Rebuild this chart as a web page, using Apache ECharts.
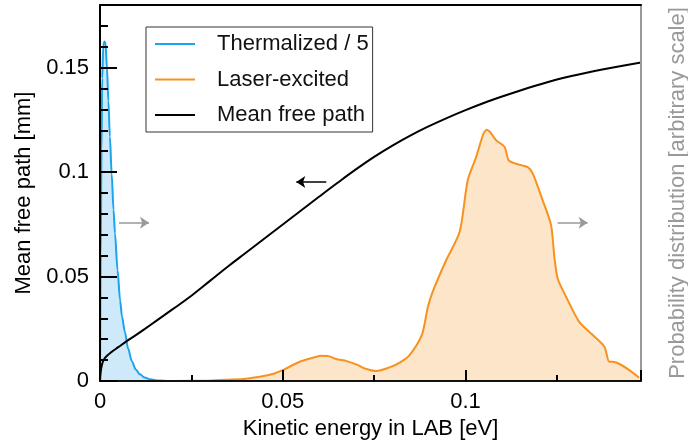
<!DOCTYPE html>
<html>
<head>
<meta charset="utf-8">
<script src="https://cdn.jsdelivr.net/npm/echarts@6/dist/echarts.min.js"></script>
<style>
html, body { margin: 0; padding: 0; background: #fff; }
#chart { width: 688px; height: 441px; }
</style>
</head>
<body>
<div id="chart"></div>
<script>
// values (energy in eV)
const thermalE = [0, 0.0002, 0.0004, 0.0006, 0.0009, 0.0012, 0.0015, 0.0019, 0.0023, 0.0027, 0.0032, 0.0037,
  0.0041, 0.0048, 0.0055, 0.006, 0.0068, 0.0077, 0.0087, 0.0098, 0.0109, 0.0122, 0.0137, 0.016, 0.019, 0.025, 0.03];
const thermalP = [0, 0.06, 0.11, 0.145, 0.1605, 0.1625, 0.162, 0.15, 0.134, 0.117, 0.099, 0.082,
  0.0706, 0.053, 0.0387, 0.031, 0.0235, 0.0155, 0.0095, 0.0055, 0.0032, 0.0017, 0.0008, 0.0002, 0, 0, 0];

const laserE = [0, 0.02, 0.03, 0.035, 0.04, 0.0437, 0.0475, 0.0501, 0.0546, 0.058, 0.0605, 0.0625, 0.0646,
  0.0675, 0.0706, 0.0724, 0.0756, 0.0792, 0.082, 0.0847, 0.0881, 0.0897, 0.091, 0.0947, 0.0984, 0.1006,
  0.1029, 0.1049, 0.1058, 0.1067, 0.1084, 0.1107, 0.1118, 0.1138, 0.117, 0.1184, 0.1211, 0.1234, 0.1243,
  0.1252, 0.1275, 0.1311, 0.1348, 0.138, 0.1393, 0.1403, 0.1475];
const laserP = [0, 0, 0.0002, 0.0006, 0.0011, 0.002, 0.0035, 0.0053, 0.0092, 0.011, 0.0121, 0.0119, 0.0105,
  0.0095, 0.0076, 0.006, 0.0048, 0.0065, 0.0088, 0.0124, 0.0223, 0.0355, 0.0427, 0.0578, 0.0714, 0.0961,
  0.1072, 0.1184, 0.1203, 0.1192, 0.1152, 0.112, 0.1056, 0.104, 0.1024, 0.0993, 0.0865, 0.0746, 0.0594,
  0.0491, 0.0403, 0.0283, 0.022, 0.0164, 0.0092, 0.0092, 0.0016];

const mfpE = [0, 0.0002, 0.0005, 0.001, 0.002, 0.003, 0.005, 0.0075, 0.01, 0.012, 0.015, 0.02, 0.025, 0.03,
  0.035, 0.04, 0.045, 0.05, 0.055, 0.06, 0.065, 0.07, 0.075, 0.08, 0.085, 0.09, 0.095, 0.1, 0.105, 0.11,
  0.115, 0.12, 0.125, 0.13, 0.135, 0.14, 0.148];
const mfpL = [0, 0.0045, 0.0075, 0.0101, 0.0122, 0.0137, 0.0162, 0.0193, 0.0222, 0.0246, 0.0283, 0.0345, 0.0408, 0.0478,
  0.0548, 0.0615, 0.0682, 0.0749, 0.0816, 0.0883, 0.0949, 0.1013, 0.1073, 0.1127, 0.1176, 0.122, 0.126, 0.1297, 0.1331, 0.1362,
  0.1391, 0.1418, 0.1443, 0.1464, 0.1483, 0.15, 0.1525];

const xTicks = [0, 0.05, 0.1];
const yTicks = [0, 0.05, 0.1, 0.15];

const pairs = (xs, ys) => xs.map((x, i) => [x, ys[i]]);
const FONT = '"Liberation Sans", Arial, sans-serif';
const onList = list => v => list.some(t => Math.abs(t - v) < 1e-9) ? String(v) : '';

// arrows telling which axis a curve belongs to
const arrowRightA = [[0.0052, 0.0757], [0.0134, 0.0757]];
const arrowRightB = [[0.1252, 0.0757], [0.1334, 0.0757]];
const arrowLeft = [[0.0619, 0.0953], [0.0537, 0.0953]];

function arrow(seg, color) {
  return {
    silent: true,
    symbol: ['none', 'arrow'],
    symbolSize: [9, 9],
    label: { show: false },
    lineStyle: { color: color, width: 1.5, type: 'solid' },
    emphasis: { disabled: true },
    data: [[{ coord: seg[0] }, { coord: seg[1] }]]
  };
}

const chart = echarts.init(document.getElementById('chart'));
chart.setOption({
  animation: false,
  grid: { left: 100, right: 47, top: 5, bottom: 60, outerBoundsMode: 'none' },
  legend: {
    data: ['Thermalized / 5', 'Laser-excited', 'Mean free path'],
    orient: 'vertical',
    left: 146,
    top: 27,
    padding: [5, 4, 5, 9],
    itemWidth: 40,
    itemHeight: 2,
    itemGap: 11.5,
    icon: 'rect',
    backgroundColor: '#fff',
    borderColor: '#333',
    borderWidth: 1,
    selectedMode: false,
    textStyle: { fontSize: 22, fontFamily: FONT, color: '#111', lineHeight: 24, padding: [0, 0, 0, 17] }
  },
  xAxis: [
    {
      type: 'value', position: 'bottom', min: 0, max: 0.148, interval: 0.05, z: 10,
      axisLine: { show: true, onZero: false, lineStyle: { color: '#111', width: 2 } },
      axisTick: { show: true, inside: true, length: 11, lineStyle: { color: '#000', width: 2 } },
      axisLabel: { margin: 10, fontSize: 22, fontFamily: FONT, color: '#000', formatter: onList(xTicks) },
      splitLine: { show: false },
      name: 'Kinetic energy in LAB [eV]', nameLocation: 'middle', nameGap: 31,
      nameTextStyle: { fontSize: 22, fontFamily: FONT, color: '#000' }
    },
    {
      type: 'value', position: 'bottom', min: 0, max: 0.148, interval: 0.025, z: 10,
      axisLine: { show: false, onZero: false },
      axisTick: { show: true, inside: true, length: 6, lineStyle: { color: '#000', width: 2 } },
      axisLabel: { show: false }, splitLine: { show: false }
    },
    {
      type: 'value', position: 'top', min: 0, max: 0.148, z: 10,
      axisLine: { show: true, onZero: false, lineStyle: { color: '#000', width: 2 } },
      axisTick: { show: false }, axisLabel: { show: false }, splitLine: { show: false }
    }
  ],
  yAxis: [
    {
      type: 'value', position: 'left', min: 0, max: 0.18, interval: 0.05, z: 10,
      axisLine: { show: true, onZero: false, lineStyle: { color: '#000', width: 2 } },
      axisTick: { show: true, inside: true, length: 17, lineStyle: { color: '#000', width: 2 } },
      axisLabel: { margin: 11, fontSize: 22, fontFamily: FONT, color: '#000', formatter: onList(yTicks) },
      splitLine: { show: false },
      name: 'Mean free path [mm]', nameLocation: 'middle', nameGap: 60,
      nameTextStyle: { fontSize: 22, fontFamily: FONT, color: '#000' }
    },
    {
      type: 'value', position: 'left', min: 0, max: 0.18, interval: 0.01, z: 10,
      axisLine: { show: false, onZero: false },
      axisTick: { show: true, inside: true, length: 8, lineStyle: { color: '#000', width: 2 } },
      axisLabel: { show: false }, splitLine: { show: false }
    },
    {
      type: 'value', position: 'right', min: 0, max: 0.18, z: 10,
      axisLine: { show: true, onZero: false, lineStyle: { color: '#999', width: 2 } },
      axisTick: { show: false }, axisLabel: { show: false }, splitLine: { show: false },
      name: 'Probability distribution [arbitrary scale]', nameLocation: 'middle', nameGap: 26,
      nameTextStyle: { fontSize: 22, fontFamily: FONT, color: '#999' }
    }
  ],
  series: [
    {
      name: 'Thermalized / 5', type: 'line', yAxisIndex: 2,
      data: pairs(thermalE, thermalP),
      symbol: 'none', smooth: 0.3, smoothMonotone: 'x',
      itemStyle: { color: '#19a4ec' },
      lineStyle: { color: '#19a4ec', width: 2 },
      areaStyle: { color: '#cde9fa', opacity: 1 },
      markLine: arrow(arrowRightA, '#999'),
      z: 2
    },
    {
      name: 'Laser-excited', type: 'line', yAxisIndex: 2,
      data: pairs(laserE, laserP),
      symbol: 'none', smooth: 0.25,
      itemStyle: { color: '#f7921e' },
      lineStyle: { color: '#f7921e', width: 2 },
      areaStyle: { color: '#fde5c9', opacity: 1 },
      markLine: arrow(arrowRightB, '#999'),
      z: 3
    },
    {
      name: 'Mean free path', type: 'line', yAxisIndex: 0,
      data: pairs(mfpE, mfpL),
      symbol: 'none', smooth: 0.4,
      itemStyle: { color: '#000' },
      lineStyle: { color: '#000', width: 2 },
      markLine: arrow(arrowLeft, '#000'),
      z: 4
    }
  ]
});
</script>
</body>
</html>
